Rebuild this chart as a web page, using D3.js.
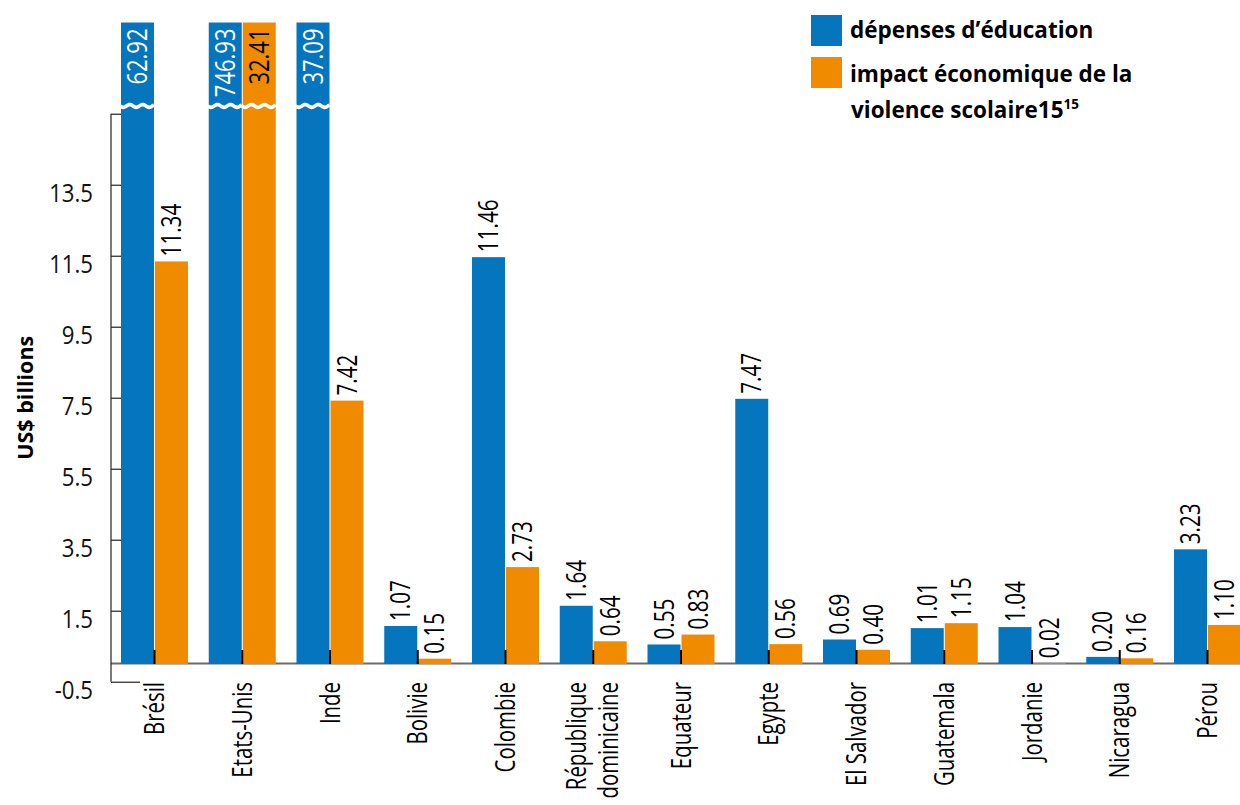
<!DOCTYPE html>
<html>
<head>
<meta charset="utf-8">
<script src="https://cdn.jsdelivr.net/npm/d3@7"></script>
<style>
  html, body { margin: 0; padding: 0; background: #ffffff; }
  svg { display: block; font-family: "Open Sans", "Noto Sans", sans-serif; }
</style>
</head>
<body>
<script>
// ---------- data ----------
const categories = ["Brésil", "Etats-Unis", "Inde", "Bolivie", "Colombie", "République dominicaine",
  "Equateur", "Egypte", "El Salvador", "Guatemala", "Jordanie", "Nicaragua", "Pérou"];
const educationSpending = [62.92, 746.93, 37.09, 1.07, 11.46, 1.64, 0.55, 7.47, 0.69, 1.01, 1.04, 0.20, 3.23];
const violenceImpact = [11.34, 32.41, 7.42, 0.15, 2.73, 0.64, 0.83, 0.56, 0.40, 1.15, 0.02, 0.16, 1.10];
const yTickValues = [-0.5, 1.5, 3.5, 5.5, 7.5, 9.5, 11.5, 13.5, 15.5];
const yTickLabels = ["-0.5", "1.5", "3.5", "5.5", "7.5", "9.5", "11.5", "13.5", ""];
const seriesNames = ["dépenses d’éducation", "impact économique de la violence scolaire15"];
const seriesKeys = ["edu", "vio"];
const colors = ["#0575BD", "#F08B00"];
const yTitle = "US$ billions";
const axisMin = -0.5, axisMax = 15.5;
const breakWaveValue = 15.72, breakTopValue = 18.07;

// ---------- setup ----------
const W = 1240, H = 805;
const svg = d3.select("body").append("svg").attr("width", W).attr("height", H);

const y = d3.scaleLinear().domain([axisMin, axisMax]).range([681.75, 113.75]);
const x = d3.scaleBand().domain(categories).range([121, 1241]).paddingInner(0.2365).paddingOuter(0);
const xs = d3.scaleBand().domain(seriesKeys).range([0, x.bandwidth()]).paddingInner(0.03);

const rows = categories.map((c, i) => ({ cat: c, vals: [educationSpending[i], violenceImpact[i]] }));

// zero baseline (grey)
svg.append("line")
  .attr("x1", 111).attr("x2", W)
  .attr("y1", y(0) - 0.5).attr("y2", y(0) - 0.5)
  .attr("stroke", "#6b6b6b").attr("stroke-width", 2);

// bars
const groups = svg.selectAll("g.grp").data(rows).enter().append("g")
  .attr("class", "grp").attr("transform", d => `translate(${x(d.cat)},0)`);

groups.each(function (d) {
  const g = d3.select(this);
  d.vals.forEach((v, k) => {
    const broken = v > axisMax;
    const top = broken ? y(breakTopValue) : y(v);
    const bx = xs(seriesKeys[k]);
    const bw = xs.bandwidth();
    g.append("rect")
      .attr("x", bx).attr("width", bw)
      .attr("y", top).attr("height", y(0) - top)
      .attr("fill", colors[k]);
    const label = d3.format(".2f")(v);
    if (broken) {
      const yw = y(breakWaveValue);
      const pts = d3.range(0, bw + 2.01, 1).map(t => [bx - 1 + t, yw + 1.4 * Math.sin(t / 13 * 2 * Math.PI)]);
      g.append("path")
        .attr("d", d3.line()(pts))
        .attr("fill", "none").attr("stroke", "#ffffff").attr("stroke-width", 3.6);
      g.append("text")
        .attr("transform", `translate(${bx + bw / 2},${y(breakTopValue) + 6}) rotate(-90) scale(0.8,1)`)
        .attr("text-anchor", "end").attr("dy", "0.36em")
        .attr("font-size", 27.5)
        .attr("fill", k === 0 ? "#ffffff" : "#000000")
        .text(label);
    } else {
      g.append("text")
        .attr("transform", `translate(${bx + bw / 2},${y(v) - 5}) rotate(-90) scale(0.78,1)`)
        .attr("text-anchor", "start").attr("dy", "0.36em")
        .attr("font-size", 26.5)
        .attr("fill", "#000000")
        .text(label);
    }
  });
});

// x tick marks (black) at group centers
svg.selectAll("line.xt").data(categories).enter().append("line")
  .attr("class", "xt")
  .attr("x1", d => x(d) + x.bandwidth() / 2).attr("x2", d => x(d) + x.bandwidth() / 2)
  .attr("y1", y(0)).attr("y2", y(0) - 14)
  .attr("stroke", "#000").attr("stroke-width", 2);

// x labels
const xl = svg.selectAll("text.xl").data(categories).enter().append("text")
  .attr("class", "xl")
  .attr("transform", d => `translate(${x(d) + x.bandwidth() / 2},682) rotate(-90) scale(0.77,1)`)
  .attr("text-anchor", "end")
  .attr("font-size", 26.5)
  .attr("fill", "#000");
xl.each(function (d) {
  const t = d3.select(this);
  const parts = d.split(" ");
  if (d === "République dominicaine") {
    t.append("tspan").attr("x", 0).attr("dy", "-7px").text(parts[0]);
    t.append("tspan").attr("x", 0).attr("dy", "32px").text(parts[1]);
  } else {
    t.attr("dy", "0.36em").text(d);
  }
});

// y axis
const yAxis = d3.axisLeft(y).tickValues(yTickValues)
  .tickFormat((d, i) => yTickLabels[i]).tickSize(-10).tickSizeOuter(0).tickPadding(18);
const ya = svg.append("g").attr("transform", "translate(111,0)").call(yAxis);
ya.select(".domain").remove();
ya.selectAll(".tick line").attr("stroke", "#333").attr("stroke-width", 1.3)
  .attr("x2", d => d === axisMin ? 29 : 10);
ya.selectAll(".tick text").attr("font-size", 25.5).attr("fill", "#111")
  .attr("font-family", "'Open Sans', sans-serif")
  .attr("x", null).attr("y", 9)
  .attr("transform", "translate(-18,0) scale(0.87,1)");
ya.append("line").attr("x1", 0).attr("x2", 0)
  .attr("y1", y(axisMax)).attr("y2", y(axisMin))
  .attr("stroke", "#333").attr("stroke-width", 1.3);

// y title
svg.append("text")
  .attr("transform", `translate(33,${(y(axisMin) + y(axisMax)) / 2}) rotate(-90)`)
  .attr("text-anchor", "middle")
  .attr("font-size", 21.5).attr("font-weight", 700).attr("fill", "#000")
  .text(yTitle);

// legend
const leg = svg.append("g").attr("font-weight", 700).attr("font-size", 22.5).attr("fill", "#000");
leg.append("rect").attr("x", 811).attr("y", 15).attr("width", 31).attr("height", 31).attr("fill", colors[0]);
leg.append("rect").attr("x", 811).attr("y", 57).attr("width", 31).attr("height", 31).attr("fill", colors[1]);
leg.append("text").attr("x", 850).attr("y", 38).text(seriesNames[0]);
leg.append("text").attr("x", 850).attr("y", 82).text("impact économique de la");
const l3 = leg.append("text").attr("x", 851).attr("y", 118);
l3.append("tspan").text("violence scolaire15");
l3.append("tspan").attr("font-size", 13.5).attr("dy", -9).text("15");
</script>
</body>
</html>
